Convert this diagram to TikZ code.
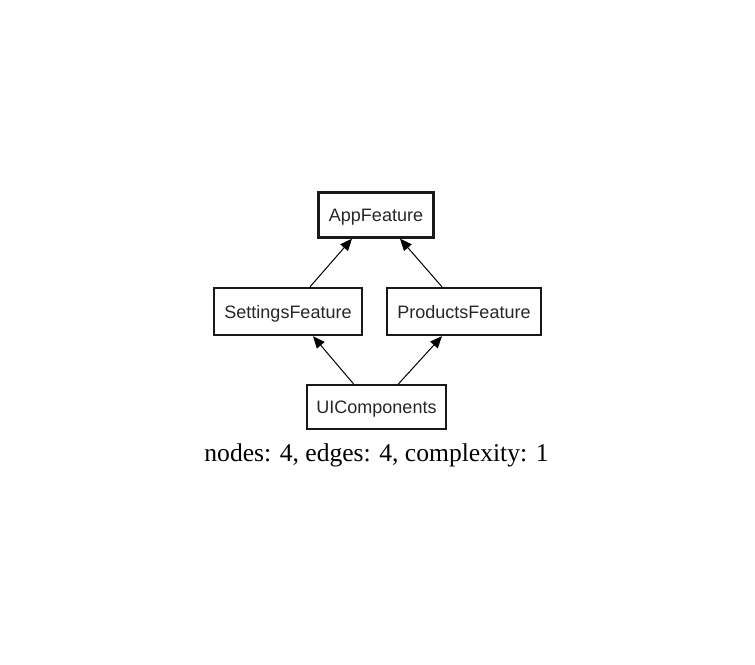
\documentclass[tikz,border=0pt]{standalone}
\usepackage{fontspec}
\setmainfont{Liberation Serif}
\newfontfamily\boxfont{Liberation Sans}
\usetikzlibrary{arrows.meta}
\begin{document}
\begin{tikzpicture}[x=1pt,y=-1pt,
  box/.style={draw=black!90, line width=2.3pt, inner sep=0pt, text height=13pt, text depth=0pt, font=\boxfont\fontsize{18}{21}\selectfont, text=black!85},
  dep/.style={line width=1pt, -{Triangle[length=12pt,width=10pt]}}]
\useasboundingbox (0,0) rectangle (755,664);
\node[box, minimum width=115pt, minimum height=45pt] (app) at (376,215) {AppFeature};
\node[box, minimum width=148pt, minimum height=47pt] (set) at (288,311.5) {SettingsFeature};
\node[box, minimum width=154pt, minimum height=47pt] (prod) at (464,311.5) {ProductsFeature};
\node[box, minimum width=139pt, minimum height=44pt] (ui) at (376.5,407) {UIComponents};
\node[font=\fontsize{25.6}{30}\selectfont, anchor=base] (cap) at (376.5,461) {nodes: 4, edges: 4, complexity: 1};
\draw[dep] ([xshift=22pt]set.north) -- ([xshift=-24pt]app.south);
\draw[dep] ([xshift=-22pt]prod.north) -- ([xshift=24pt]app.south);
\draw[dep] ([xshift=-23pt]ui.north) -- ([xshift=25pt]set.south);
\draw[dep] ([xshift=22pt]ui.north) -- ([xshift=-22pt]prod.south);
\end{tikzpicture}
\end{document}
